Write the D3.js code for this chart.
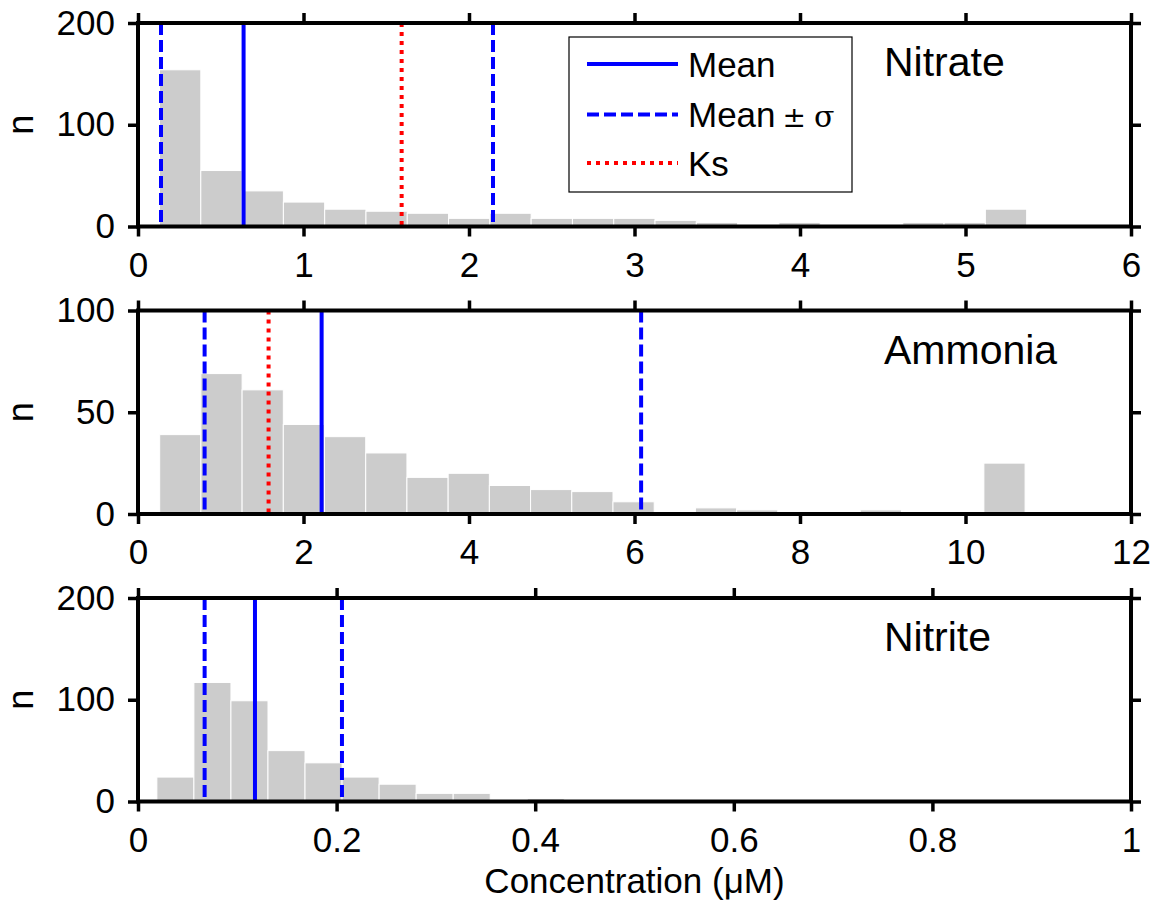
<!DOCTYPE html>
<html>
<head>
<meta charset="utf-8">
<script src="https://cdn.jsdelivr.net/npm/d3@7"></script>
<style>
  body { margin: 0; background: #fff; }
  text { font-family: "Liberation Sans", Arial, sans-serif; fill: #000; }
</style>
</head>
<body>
<script>
// panel data
const panelNames = ["Nitrate", "Ammonia", "Nitrite"];
const xMax = [6, 12, 1];
const yMax = [200, 100, 200];
const xTicks = [[0, 1, 2, 3, 4, 5, 6], [0, 2, 4, 6, 8, 10, 12], [0, 0.2, 0.4, 0.6, 0.8, 1]];
const yTicks = [[0, 100, 200], [0, 50, 100], [0, 100, 200]];

// histogram bins: first edge, bin width, counts
const binStart = [0.13, -0.236, 0.019];
const binWidth = [0.2495, 0.498, 0.0373];
const nitrateCounts = [154, 55, 35, 24, 17, 15, 13, 8, 13, 8, 8, 8, 6, 4, 1, 4, 1, 1, 4, 4, 17];
const ammoniaCounts = [1, 39, 69, 61, 44, 38, 30, 18, 20, 14, 12, 11, 6, 0, 3, 2, 1, 1, 2, 1, 1, 25];
const nitriteCounts = [24, 117, 99, 50, 38, 24, 17, 8, 8, 0, 3, 1, 1, 1, 1, 1, 1, 1, 1, 1, 0];

// reference lines
const meanVals = [0.638, 2.219, 0.1178];
const lowerVals = [0.139, 0.805, 0.0671];
const upperVals = [2.145, 6.08, 0.2054];
const ksVals = [1.593, 1.578, null];

const legendLabels = ["Mean", "Mean", "Ks"];

const counts = [nitrateCounts, ammoniaCounts, nitriteCounts];

const W = 1156, H = 905;
const left = 138, right = 1131;
const panelTop = [23, 310.5, 598];
const panelH = 203.5;

const svg = d3.select("body").append("svg")
    .attr("width", W)
    .attr("height", H);

const defs = svg.append("defs");

const dash = "12,5";
const dot = "4,5";

panelNames.forEach(function (name, i) {
  const top = panelTop[i], bottom = top + panelH;
  const x = d3.scaleLinear().domain([0, xMax[i]]).range([left, right]);
  const y = d3.scaleLinear().domain([0, yMax[i]]).range([bottom, top]);

  defs.append("clipPath").attr("id", "clip" + i)
    .append("rect")
      .attr("x", left).attr("y", top)
      .attr("width", right - left).attr("height", panelH);

  const g = svg.append("g");
  const plot = g.append("g").attr("clip-path", "url(#clip" + i + ")");

  const bins = counts[i].map(function (c, k) {
    return { x0: binStart[i] + k * binWidth[i], x1: binStart[i] + (k + 1) * binWidth[i], n: c };
  });

  plot.selectAll("rect.bar")
    .data(bins.filter(d => d.n > 0))
    .enter().append("rect")
      .attr("class", "bar")
      .attr("x", d => x(d.x0))
      .attr("width", d => x(d.x1) - x(d.x0))
      .attr("y", d => y(d.n))
      .attr("height", d => y(0) - y(d.n))
      .attr("fill", "#cccccc")
      .attr("stroke", "#ffffff")
      .attr("stroke-width", 1);

  const vlines = [
    { v: lowerVals[i], color: "#0000ff", da: dash },
    { v: upperVals[i], color: "#0000ff", da: dash },
    { v: meanVals[i], color: "#0000ff", da: null },
    { v: ksVals[i], color: "#ff0000", da: dot }
  ].filter(d => d.v !== null);

  plot.selectAll("line.ref")
    .data(vlines)
    .enter().append("line")
      .attr("class", "ref")
      .attr("x1", d => x(d.v)).attr("x2", d => x(d.v))
      .attr("y1", y(yMax[i])).attr("y2", y(0))
      .attr("stroke", d => d.color)
      .attr("stroke-width", 4)
      .attr("stroke-dasharray", d => d.da);

  // axes on all four sides, ticks pointing outward
  const fmt = d => String(d);
  g.append("g")
      .attr("transform", "translate(0," + bottom + ")")
      .call(d3.axisBottom(x).tickValues(xTicks[i]).tickFormat(fmt).tickSize(10).tickPadding(15.5))
      .call(a => a.select(".domain").remove());
  g.append("g")
      .attr("transform", "translate(0," + top + ")")
      .call(d3.axisTop(x).tickValues(xTicks[i]).tickFormat("").tickSize(10))
      .call(a => a.select(".domain").remove());
  g.append("g")
      .attr("transform", "translate(" + left + ",0)")
      .call(d3.axisLeft(y).tickValues(yTicks[i]).tickFormat(fmt).tickSize(10).tickPadding(13))
      .call(a => a.select(".domain").remove());
  g.append("g")
      .attr("transform", "translate(" + right + ",0)")
      .call(d3.axisRight(y).tickValues(yTicks[i]).tickFormat("").tickSize(10))
      .call(a => a.select(".domain").remove());

  g.selectAll(".tick line").attr("stroke", "#000").attr("stroke-width", 3.5);
  g.selectAll(".tick text")
      .attr("font-size", 35)
      .attr("font-family", "Liberation Sans, Arial, sans-serif")
      .attr("fill", "#000");

  g.append("rect")
      .attr("x", left).attr("y", top)
      .attr("width", right - left).attr("height", panelH)
      .attr("fill", "none")
      .attr("stroke", "#000")
      .attr("stroke-width", 4);

  g.append("text")
      .attr("x", 884)
      .attr("y", top + 53)
      .attr("font-size", 41)
      .text(name);

  g.append("text")
      .attr("transform", "translate(33," + (top + panelH / 2) + ") rotate(-90)")
      .attr("text-anchor", "middle")
      .attr("font-size", 36)
      .text("n");
});

// legend in the first panel
const leg = svg.append("g");
leg.append("rect")
    .attr("x", 569).attr("y", 37)
    .attr("width", 283).attr("height", 155)
    .attr("fill", "#fff")
    .attr("stroke", "#000")
    .attr("stroke-width", 1.2);

const legItems = [
  { label: legendLabels[0], color: "#0000ff", da: null, extra: false },
  { label: legendLabels[1], color: "#0000ff", da: dash, extra: true },
  { label: legendLabels[2], color: "#ff0000", da: dot, extra: false }
];
const legY = [64, 114.5, 163];

legItems.forEach(function (d, k) {
  leg.append("line")
      .attr("x1", 587).attr("x2", 678)
      .attr("y1", legY[k]).attr("y2", legY[k])
      .attr("stroke", d.color)
      .attr("stroke-width", 4)
      .attr("stroke-dasharray", d.da);
  const t = leg.append("text")
      .attr("x", 688)
      .attr("y", legY[k] + 12.5)
      .attr("font-size", 35);
  t.append("tspan").text(d.label);
  if (d.extra) {
    t.append("tspan").attr("font-family", "DejaVu Serif, serif").attr("font-size", 28).attr("dx", 7).text("\u00b1");
    t.append("tspan").attr("font-family", "DejaVu Serif, serif").attr("font-size", 30).attr("dx", 8).text("\u03c3");
  }
});

svg.append("text")
    .attr("x", (left + right) / 2)
    .attr("y", 893)
    .attr("text-anchor", "middle")
    .attr("font-size", 35)
    .text("Concentration (\u03bcM)");
</script>
</body>
</html>
